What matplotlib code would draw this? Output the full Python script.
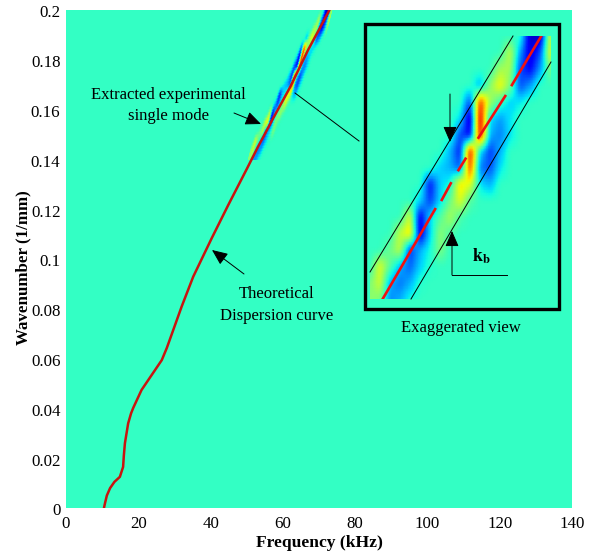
import numpy as np
import matplotlib
matplotlib.use("Agg")
import matplotlib.pyplot as plt
from matplotlib.patches import Rectangle, FancyArrowPatch
from matplotlib.transforms import ScaledTranslation

plt.rcParams['font.family'] = ['Liberation Serif', 'DejaVu Serif']

W, H = 589, 557
B = 0.412  # background level of the colour map

# theoretical dispersion curve
curve_f = [10.5, 10.8, 11.3, 12.2, 13.4, 14.9, 15.8, 16.0, 16.3, 17.2, 18.0, 18.6, 20.9, 26.5, 27.9, 32.0, 35.2,
           40.3, 44.9, 50.0, 53.1, 57.5, 62, 67, 72.9]
curve_k = [0, 0.002, 0.005, 0.008, 0.0105, 0.0125, 0.0165, 0.021, 0.026, 0.034, 0.038, 0.0402, 0.0474, 0.0594,
           0.0643, 0.0809, 0.0929, 0.1083, 0.1217, 0.1361, 0.145, 0.157, 0.169, 0.184, 0.2]

# red segments in the exaggerated view (NaN = gap)
inset_f = [51.0, 57.63, np.nan, 58.47, 59.61, np.nan, 60.58, 61.47, np.nan, 63.11, 66.49, np.nan, 67.33, 71.05]
inset_k = [0.14, 0.1605, np.nan, 0.1626, 0.1664, np.nan, 0.1694, 0.172, np.nan, 0.1768, 0.1863, np.nan, 0.1888, 0.2]

# measured amplitude, rows by wavenumber, columns by frequency
band_k = [0.14 + 0.06 * i / 16 for i in range(17)]
band_f = [49.4 + 30 * j / 23.7 for j in range(19)]
band = [
    [.52, .50, .26, .30, .38, B, B, B, B, B, B, B, B, B, B, B, B, B, B],
    [.50, .60, .30, .24, .30, .40, B, B, B, B, B, B, B, B, B, B, B, B, B],
    [B, .62, .46, .30, .22, .33, .40, B, B, B, B, B, B, B, B, B, B, B, B],
    [B, B, .48, .58, .18, .30, .38, .50, B, B, B, B, B, B, B, B, B, B, B],
    [B, B, B, .58, .68, .08, .33, .52, .44, B, B, B, B, B, B, B, B, B, B],
    [B, B, B, B, .60, .10, .34, .45, .55, .44, B, B, B, B, B, B, B, B, B],
    [B, B, B, B, B, .34, .18, .34, .48, .62, .45, B, B, B, B, B, B, B, B],
    [B, B, B, B, B, B, .14, .33, .38, .68, .62, .35, .30, B, B, B, B, B, B],
    [B, B, B, B, B, B, B, .33, .30, .22, .85, .25, .20, .35, B, B, B, B, B],
    [B, B, B, B, B, B, B, B, .30, .15, .90, .35, .18, .30, B, B, B, B, B],
    [B, B, B, B, B, B, B, B, B, .20, .12, .92, .30, .25, .35, B, B, B, B],
    [B, B, B, B, B, B, B, B, B, .35, .06, .95, .35, .28, .35, B, B, B, B],
    [B, B, B, B, B, B, B, B, B, B, .20, .85, .55, .42, .33, .36, B, B, B],
    [B, B, B, B, B, B, B, B, B, B, B, .30, .52, .65, .50, .20, .28, B, B],
    [B, B, B, B, B, B, B, B, B, B, B, B, B, .55, .55, .20, .12, .28, .50],
    [B, B, B, B, B, B, B, B, B, B, B, B, B, B, .58, .28, .08, .20, .62],
    [B, B, B, B, B, B, B, B, B, B, B, B, B, B, B, .40, .06, .06, .60],
]

x_ticks = [0, 20, 40, 60, 80, 100, 120, 140]
y_ticks = [0, 0.02, 0.04, 0.06, 0.08, 0.1, 0.12, 0.14, 0.16, 0.18, 0.2]
y_labels = ['0', '0.02', '0.04', '0.06', '0.08', '0.1', '0.12', '0.14', '0.16', '0.18', '0.2']

cmap = plt.get_cmap('jet')
bg_color = cmap(B)


def px_rect(x0, y0, x1, y1):
    return [x0 / W, 1 - y1 / H, (x1 - x0) / W, (y1 - y0) / H]


def px(x, y):
    return (x / W, 1 - y / H)


def refine(values, f, k, n=6):
    """Resample the coarse table finely so it renders like a blurred bitmap."""
    v = np.asarray(values, dtype=float)
    fine_f = np.linspace(f[0], f[-1], (len(f) - 1) * n + 1)
    fine_k = np.linspace(k[0], k[-1], (len(k) - 1) * n + 1)
    out = np.array([np.interp(fine_f, f, row) for row in v])
    out = np.array([np.interp(fine_k, k, col) for col in out.T]).T
    kern = np.hanning(n + 1)[1:-1]
    kern /= kern.sum()
    pad = len(kern) // 2
    out = np.apply_along_axis(lambda m: np.convolve(np.pad(m, pad, mode='edge'), kern, mode='valid'), 0, out)
    out = np.apply_along_axis(lambda m: np.convolve(np.pad(m, pad, mode='edge'), kern, mode='valid'), 1, out)
    return fine_f, fine_k, out


def draw_band(axis, f_low, f_high, scale):
    f, k, vals = refine(band, band_f, band_k)
    t = (k - k[0]) / (k[-1] - k[0])
    inset_centre = 51.0 + t * (71.05 - 51.0)
    centre = f_low + t * (f_high - f_low)
    X = centre[:, None] + (f[None, :] - inset_centre[:, None]) * scale
    Y = np.repeat(k[:, None], len(f), axis=1)
    axis.pcolormesh(X, Y, vals, cmap=cmap, vmin=0, vmax=1, shading='gouraud')


fig = plt.figure(figsize=(W / 100, H / 100), dpi=100, facecolor='white')
ax = fig.add_axes(px_rect(66, 10, 572, 508), facecolor=bg_color)
draw_band(ax, 51.4, 72.9, 0.56)
ax.plot(curve_f, curve_k, color='#c8140f', lw=1.8, solid_capstyle='round')
ax.set_xlim(0, 140)
ax.set_ylim(0, 0.2)
ax.set_xticks(x_ticks)
ax.set_yticks(y_ticks, y_labels)
ax.tick_params(length=0, labelsize=12.2)
ax.tick_params(axis='x', pad=5.5)
ax.tick_params(axis='y', pad=4)
shift = ScaledTranslation(0, -1.0 / 72, fig.dpi_scale_trans)
for lab in ax.get_yticklabels():
    lab.set_transform(lab.get_transform() + shift)
for sp in ax.spines.values():
    sp.set_visible(False)
ax.set_xlabel('Frequency (kHz)', fontweight='bold', fontsize=12.6)
ax.xaxis.set_label_coords((319 - 66) / 506, (508 - 535) / 498)
ax.set_ylabel('Wavenumber (1/mm)', fontweight='bold', fontsize=12.2)
ax.yaxis.set_label_coords((31 - 66) / 506, (508 - 268) / 498)

# exaggerated view
ins = fig.add_axes(px_rect(370, 36, 552, 299), facecolor=bg_color)
draw_band(ins, 51.0, 71.05, 1.0)
ins.plot(inset_f, inset_k, color='#f01010', lw=1.9)
ins.set_xlim(49.4, 72.4)
ins.set_ylim(0.14, 0.2)
ins.set_xticks([])
ins.set_yticks([])
for sp in ins.spines.values():
    sp.set_visible(False)

fig.add_artist(Rectangle(px(364.5, 309), 194 / W, 285 / H, transform=fig.transFigure,
                         fill=False, ec='black', lw=2.4))


def seg(x0, y0, x1, y1, lw=0.7):
    fig.add_artist(plt.Line2D(*zip(px(x0, y0), px(x1, y1)), transform=fig.transFigure, color='black', lw=lw))


def arrow(x0, y0, x1, y1):
    fig.add_artist(FancyArrowPatch(
        px(x0, y0), px(x1, y1), transform=fig.transFigure, arrowstyle='-|>,head_length=6,head_width=2.6',
        color='black', lw=0.7, shrinkA=0, shrinkB=0, mutation_scale=1.6))


seg(370, 272, 513, 36)
seg(411, 299, 551, 62)
seg(295, 93, 359, 141)
seg(452, 275, 507, 275)
arrow(450, 94, 450, 142)
arrow(452, 275, 452, 231)
arrow(234, 113, 261, 124)
arrow(244, 274, 212, 250)


def label(x, y, text, **kw):
    fig.text(x / W, 1 - y / H, text, ha='center', va='center', fontsize=kw.pop('fontsize', 12), **kw)


label(168, 95, 'Extracted experimental')
label(168, 116, 'single mode')
label(277, 294, 'Theoretical')
label(277, 316, 'Dispersion curve')
label(461, 328, 'Exaggerated view')
label(481, 256, r'$\mathbf{k_b}$', fontsize=13, math_fontfamily='stix')

fig.savefig('out.png', dpi=100)
